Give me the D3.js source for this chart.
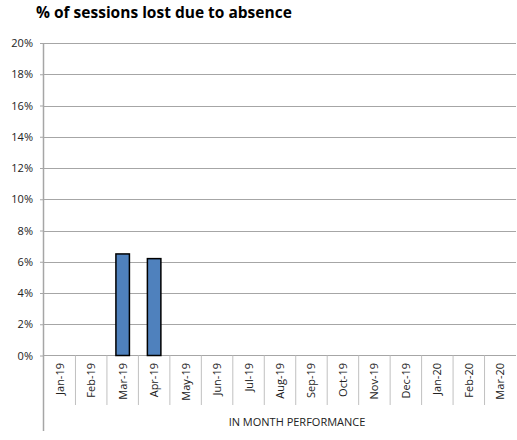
<!DOCTYPE html>
<html><head><meta charset="utf-8">
<script src="https://cdn.jsdelivr.net/npm/d3@7"></script>
<style>body{margin:0;background:#fff}svg{display:block}text{font-family:"Open Sans","Liberation Sans",sans-serif}</style>
</head><body>
<svg id="c" width="517" height="440"></svg>
<script>
const months = ["Jan-19","Feb-19","Mar-19","Apr-19","May-19","Jun-19","Jul-19","Aug-19","Sep-19","Oct-19","Nov-19","Dec-19","Jan-20","Feb-20","Mar-20"];
const lostPct = [null,null,0.065,0.062,null,null,null,null,null,null,null,null,null,null,null];
const yTicks = [0,0.02,0.04,0.06,0.08,0.10,0.12,0.14,0.16,0.18,0.20];
const title = "% of sessions lost due to absence";
const xTitle = "IN MONTH PERFORMANCE";

const svg = d3.select("#c");
const L = 44, R = 516, T = 43, B = 355.5;
const x = d3.scaleBand().domain(months).range([L, R]).paddingInner(0).paddingOuter(0);
const y = d3.scaleLinear().domain([0, 0.2]).range([B, T]);

svg.append("text").attr("x", 36).attr("y", 18).attr("font-size", 15.5).attr("font-weight", "bold")
  .attr("fill", "#000").text(title);

// gridlines
svg.append("g").selectAll("line").data(yTicks.slice(1)).join("line")
  .attr("x1", L).attr("x2", R).attr("y1", d => Math.round(y(d)) + 0.5).attr("y2", d => Math.round(y(d)) + 0.5)
  .attr("stroke", "#a6a6a6").attr("stroke-width", 1);

// y axis
const yAxis = d3.axisLeft(y).tickValues(yTicks).tickFormat(d3.format(".0%")).tickSize(4).tickSizeOuter(0);
const gy = svg.append("g").attr("transform", `translate(${L},0)`).call(yAxis);
gy.select(".domain").remove();
gy.selectAll(".tick line").attr("stroke", "#a6a6a6");
gy.selectAll(".tick text").attr("font-size", 11).attr("fill", "#222").attr("x", -11);
svg.append("line").attr("x1", L - 0.5).attr("x2", L - 0.5).attr("y1", T).attr("y2", 431)
  .attr("stroke", "#a6a6a6").attr("stroke-width", 1.5);

// x axis baseline
svg.append("line").attr("x1", L).attr("x2", R).attr("y1", B).attr("y2", B).attr("stroke", "#a6a6a6").attr("stroke-width", 1.2);

// category separators
svg.append("g").selectAll("line").data(months.slice(1)).join("line")
  .attr("x1", d => x(d)).attr("x2", d => x(d)).attr("y1", B).attr("y2", 405)
  .attr("stroke", "#c0c0c0").attr("stroke-width", 1);

// x labels
svg.append("g").selectAll("text").data(months).join("text")
  .attr("transform", d => `translate(${x(d) + x.bandwidth() / 2 + 4},363) rotate(-90)`)
  .attr("text-anchor", "end").attr("font-size", 11).attr("fill", "#222").text(d => d);

// bars
const bw = 13.5;
svg.append("g").selectAll("rect").data(months.map((m, i) => ({m, v: lostPct[i]})).filter(d => d.v != null)).join("rect")
  .attr("x", d => x(d.m) + x.bandwidth() / 2 - bw / 2).attr("width", bw)
  .attr("y", d => y(d.v)).attr("height", d => B - y(d.v))
  .attr("fill", "#4f81bd").attr("stroke", "#000").attr("stroke-width", 1.5);

svg.append("text").attr("x", 297).attr("y", 426).attr("text-anchor", "middle")
  .attr("font-size", 11).attr("fill", "#222").text(xTitle);
</script>
</body></html>
